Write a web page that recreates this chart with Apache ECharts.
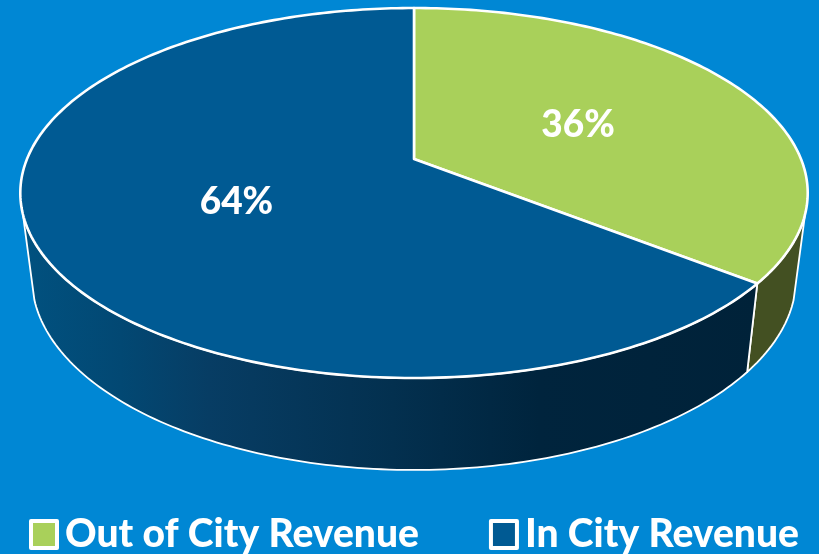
<!DOCTYPE html>
<html>
<head>
<meta charset="utf-8">
<style>html,body{margin:0;padding:0;background:#0087D4}#c{width:819px;height:554px}</style>
<script src="https://cdn.jsdelivr.net/npm/echarts@6/dist/echarts.min.js"></script>
</head>
<body>
<div id="c"></div>
<script>
var categories = ['Out of City Revenue', 'In City Revenue'];
var values = [35.6, 64.4];
var topColors = ['#A9D05A', '#005A93'];
var labelAnchor = 0.49;

var K = -0.1838;
var topFace = {cx: 414, vy: 159, a: 178.75, b: 387};
var bottomFace = {cx: 414, vy: 242.7, a: 185.5, b: 375.6};
var VIS_FROM = 107, VIS_TO = 253;

function project(f, deg, rho) {
  var t = deg * Math.PI / 180;
  var u = Math.sin(t) * rho, v = -Math.cos(t) * rho;
  var w = 1 + K * v;
  return [f.cx + f.b * u / w, f.vy + f.a * v / w];
}
function arc(f, from, to) {
  var pts = [], n = Math.max(2, Math.ceil(Math.abs(to - from)));
  for (var i = 0; i <= n; i++) pts.push(project(f, from + (to - from) * i / n, 1));
  return pts;
}
var wallGradient = [
  new echarts.graphic.LinearGradient(700, 0, 805, 0, [
    {offset: 0, color: '#435022'}, {offset: 1, color: '#435022'}
  ], true),
  new echarts.graphic.LinearGradient(25, 0, 760, 0, [
    {offset: 0, color: '#01517F'},
    {offset: 0.13, color: '#024873'},
    {offset: 0.25, color: '#073D64'},
    {offset: 0.5, color: '#03304F'},
    {offset: 0.7, color: '#00243D'},
    {offset: 1, color: '#002239'}
  ], true)
];
var total = values.reduce(function (s, x) { return s + x; }, 0);

function makeRender(idx) {
  return function (params, api) {
    var before = 0;
    for (var i = 0; i < idx; i++) before += values[i];
    var start = before / total * 360;
    var end = start + api.value(0) / total * 360;
    var children = [];
    var a = Math.max(start, VIS_FROM), b = Math.min(end, VIS_TO);
    if (b > a) {
      children.push({
        type: 'polygon', z2: 1,
        shape: {points: arc(topFace, a, b).concat(arc(bottomFace, b, a))},
        style: {fill: wallGradient[idx], stroke: '#fff', lineWidth: 1.8, lineJoin: 'round'}
      });
    }
    children.push({
      type: 'polygon', z2: 10,
      shape: {points: [project(topFace, 0, 0)].concat(arc(topFace, start, end))},
      style: {fill: topColors[idx], stroke: '#fff', lineWidth: 2.6, lineJoin: 'round'}
    });
    var mid = project(topFace, (start + end) / 2, labelAnchor);
    children.push({
      type: 'text', z2: 20, x: mid[0], y: mid[1] + 3,
      style: {
        text: Math.round(api.value(0) / total * 100) + '%',
        fill: '#fff', fontFamily: 'Lato', fontWeight: 900, fontSize: 37, align: 'center', verticalAlign: 'middle'
      }
    });
    return {type: 'group', children: children};
  };
}

var chart = echarts.init(document.getElementById('c'), null, {renderer: 'canvas'});
chart.setOption({
  animation: false,
  backgroundColor: '#0087D4',
  legend: {
    left: 29, top: 515, padding: 0, itemWidth: 26, itemHeight: 27, itemGap: 70, icon: 'rect',
    data: categories,
    itemStyle: {borderColor: '#fff', borderWidth: 4, borderJoin: 'round'},
    textStyle: {color: '#fff', fontFamily: 'Lato', fontWeight: 900, fontSize: 39, padding: [0, 0, 0, 3]}
  },
  series: categories.map(function (name, i) {
    return {
      type: 'custom', name: name, coordinateSystem: 'none', silent: true,
      itemStyle: {color: topColors[i]},
      renderItem: makeRender(i),
      data: [[values[i]]]
    };
  })
});
</script>
</body>
</html>
